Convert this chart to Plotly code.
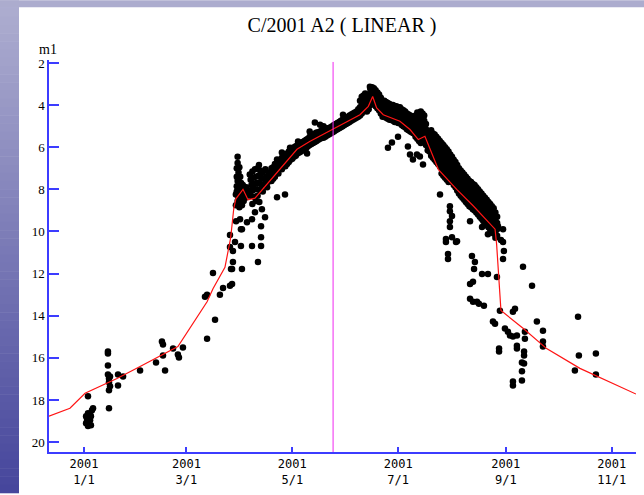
import pandas as pd
import plotly.graph_objects as go

# ---------------- data ----------------
# observations: (days since 2001-01-01, total magnitude m1)
obs_winter = [
    (1.2, 19.10), (1.7, 18.87), (2.3, 18.63), (2.3, 19.24), (2.9, 19.15), (3.5, 18.96),
    (3.5, 18.68), (4.0, 18.77), (4.0, 19.20), (4.6, 18.49), (5.2, 18.39), (1.2, 18.77),
    (1.7, 19.05), (2.9, 18.87), (2.3, 17.82),
    (13.8, 15.70), (13.8, 15.79), (13.8, 16.36), (14.4, 16.98), (14.4, 17.16), (15.0, 17.35),
    (14.4, 17.54), (13.8, 16.79), (15.0, 16.88), (14.4, 18.39), (19.6, 16.79), (19.6, 17.31),
    (22.5, 16.88), (32.3, 16.60),
    (41.5, 16.22), (44.9, 15.23), (45.5, 15.37), (45.5, 15.89), (46.7, 16.60), (51.3, 15.56),
    (54.1, 15.84), (54.7, 15.98), (57.0, 15.51), (70.9, 15.09),
]

obs_rise = [
    (75.5, 14.19), (69.7, 13.10), (70.9, 13.01), (74.3, 11.97), (78.3, 13.01), (80.1, 12.68),
    (84.1, 12.58), (85.3, 12.49), (84.7, 11.78), (85.8, 11.45), (91.0, 11.78), (90.4, 10.69),
    (84.1, 10.17), (84.1, 10.74), (85.8, 10.93), (87.0, 10.50), (90.4, 9.89), (87.6, 9.51),
    (93.9, 9.56), (85.3, 11.78), (100.2, 11.45), (96.8, 10.69), (102.0, 10.69), (102.0, 10.27),
    (102.0, 9.75), (91.0, 9.89), (89.9, 9.42), (96.8, 9.42), (104.3, 9.32), (102.5, 8.94),
    (98.5, 9.09),
]

obs_outburst = [
    (88.5, 6.45), (88.5, 6.75), (88.0, 7.0), (89.0, 7.2), (88.0, 7.4), (90.0, 7.4), (88.5, 7.6),
    (90.5, 7.7), (88.0, 7.85), (89.5, 7.9), (91.0, 8.0), (88.0, 8.1), (90.0, 8.15), (89.0, 8.35),
    (91.5, 8.3), (88.5, 8.55), (90.0, 8.6), (87.5, 8.25), (92.0, 8.55), (91.0, 8.75), (89.5, 8.85),
    (87.5, 8.75), (89.0, 7.55), (91.5, 7.8), (92.5, 8.1), (93.0, 8.4), (89.5, 6.95), (90.5, 8.45),
    (95.5, 7.3), (97.0, 7.15), (98.5, 7.05), (100.0, 7.0), (101.5, 7.1), (103.0, 7.2), (96.0, 7.55),
    (97.5, 7.45), (99.0, 7.4), (100.5, 7.35), (102.0, 7.45), (103.5, 7.5), (105.0, 7.4), (96.5, 7.8),
    (98.0, 7.75), (99.5, 7.7), (101.0, 7.7), (102.5, 7.8), (104.0, 7.75), (95.0, 8.05), (97.0, 8.05),
    (98.5, 8.0), (100.0, 8.0), (101.5, 8.05), (103.0, 8.1), (105.5, 7.9), (96.0, 8.3), (98.0, 8.35),
    (100.0, 8.3), (94.0, 8.25), (93.5, 7.9), (99.0, 8.55), (101.0, 8.6), (97.0, 8.7), (106.0, 7.65),
    (107.5, 7.5), (104.5, 7.05), (100.8, 6.85), (106.5, 7.2), (108.0, 7.3), (110.0, 7.1),
    (111.2, 8.38), (115.8, 8.24),
]

obs_pre_perihelion = [
    (108, 7.0), (108, 7.6), (110, 6.8), (110, 7.4), (112, 6.7), (112, 6.95), (112, 7.25),
    (114, 6.5), (114, 6.8), (114, 7.05), (116, 6.35), (116, 6.6), (116, 6.9),
    (118, 6.2), (118, 6.45), (118, 6.7), (120, 6.05), (120, 6.3), (120, 6.55),
    (122, 5.95), (122, 6.2), (122, 6.4), (124, 5.85), (124, 6.05), (124, 6.25),
    (126, 5.75), (126, 5.95), (126, 6.15), (128, 5.65), (128, 5.85), (128, 6.05),
    (130, 5.5), (130, 5.7), (130, 5.9), (132, 5.4), (132, 5.6), (132, 5.8),
    (134, 5.3), (134, 5.5), (134, 5.7), (136, 5.25), (136, 5.45), (136, 5.6),
    (138, 5.2), (138, 5.35), (138, 5.55), (140, 5.1), (140, 5.3), (140, 5.45),
    (142, 5.05), (142, 5.25), (142, 5.35),
    (109, 6.95), (109, 7.25), (109, 7.5), (111, 6.85), (111, 7.1), (113, 6.6), (113, 6.9),
    (115, 6.45), (115, 6.75), (117, 6.3), (117, 6.55), (117, 6.8), (119, 6.15), (119, 6.4),
    (119, 6.6), (121, 6.0), (121, 6.25), (121, 6.45), (123, 5.9), (123, 6.1), (123, 6.3),
    (125, 5.8), (125, 6.0), (125, 6.2), (127, 5.7), (127, 5.9), (127, 6.1), (129, 5.6),
    (129, 5.8), (129, 5.95), (131, 5.45), (131, 5.65), (131, 5.85), (133, 5.35), (133, 5.55),
    (133, 5.75), (135, 5.3), (135, 5.5), (135, 5.65), (137, 5.2), (137, 5.4), (137, 5.55),
    (139, 5.15), (139, 5.3), (139, 5.5), (141, 5.1), (141, 5.25), (141, 5.4),
    (143, 5.0), (143, 5.15), (143, 5.3),
    (111.2, 6.58), (114.0, 6.25), (118.7, 6.02), (123.3, 5.73), (130.0, 5.26), (133.0, 4.83),
    (136.0, 4.93), (138.0, 5.0), (128.5, 6.3),
]

obs_peak = [
    (144, 4.95), (144, 5.1), (144, 5.25), (146, 4.85), (146, 5.0), (146, 5.15),
    (148, 4.75), (148, 4.9), (148, 5.05), (150, 4.65), (150, 4.8), (150, 4.95),
    (152, 4.55), (152, 4.7), (152, 4.85), (154, 4.45), (154, 4.6), (154, 4.75),
    (156, 4.35), (156, 4.5), (156, 4.65), (158, 4.2), (158, 4.4), (158, 4.55),
    (160, 4.0), (160, 4.2), (160, 4.4), (160, 3.6), (162, 3.8), (162, 4.0), (162, 4.25), (162, 3.45),
    (164, 3.5), (164, 3.75), (164, 4.0), (164, 4.2), (164.7, 3.13),
    (166, 3.15), (166, 3.4), (166, 3.65), (166, 3.9), (168, 3.3), (168, 3.55), (168, 3.8), (168, 4.05),
    (170, 3.5), (170, 3.75), (170, 4.0), (170, 4.25),
    (145, 4.9), (145, 5.05), (145, 5.2), (147, 4.8), (147, 4.95), (147, 5.1), (149, 4.7),
    (149, 4.85), (149, 5.0), (151, 4.6), (151, 4.75), (151, 4.9), (153, 4.5), (153, 4.65),
    (153, 4.8), (155, 4.4), (155, 4.55), (155, 4.7), (157, 4.3), (157, 4.45), (157, 4.6),
    (159, 3.8), (159, 4.1), (159, 4.3), (159, 4.5), (161, 3.55), (161, 3.9), (161, 4.1), (161, 4.3),
    (163, 3.6), (163, 3.85), (163, 4.1), (163, 4.3), (165, 3.25), (165, 3.5), (165, 3.75), (165, 4.0),
    (167, 3.2), (167, 3.45), (167, 3.7), (167, 3.95), (169, 3.4), (169, 3.65), (169, 3.9), (169, 4.15),
    (149.2, 4.46), (157.3, 4.55), (145.7, 5.07),
    (172, 3.8), (172, 4.05), (172, 4.3), (172, 4.55), (174, 3.85), (174, 4.1), (174, 4.35), (174, 4.6),
    (176, 3.95), (176, 4.2), (176, 4.45), (176, 4.7), (178, 4.0), (178, 4.25), (178, 4.5), (178, 4.75),
    (180, 4.05), (180, 4.3), (180, 4.55), (180, 4.8), (182, 4.1), (182, 4.35), (182, 4.6), (182, 4.85),
    (184, 4.25), (184, 4.5), (184, 4.75), (184, 5.0), (186, 4.4), (186, 4.65), (186, 4.9), (186, 5.15),
    (188, 4.5), (188, 4.75), (188, 5.0), (188, 5.25), (190, 4.6), (190, 4.85), (190, 5.1), (190, 5.35),
    (171, 3.65), (171, 3.9), (171, 4.15), (171, 4.4), (173, 3.8), (173, 4.05), (173, 4.3), (173, 4.5),
    (175, 3.9), (175, 4.15), (175, 4.4), (175, 4.65), (177, 4.0), (177, 4.25), (177, 4.5), (177, 4.7),
    (179, 4.05), (179, 4.3), (179, 4.55), (179, 4.8), (181, 4.1), (181, 4.35), (181, 4.6), (181, 4.85),
    (183, 4.2), (183, 4.45), (183, 4.7), (183, 4.95), (185, 4.3), (185, 4.55), (185, 4.8), (185, 5.05),
    (187, 4.45), (187, 4.7), (187, 4.95), (187, 5.2), (189, 4.55), (189, 4.8), (189, 5.05), (189, 5.3),
    (192, 4.35), (192, 4.6), (192, 4.85), (192, 5.1), (192, 5.35), (192, 5.6),
    (194, 4.3), (194, 4.55), (194, 4.8), (194, 5.05), (194, 5.3), (194, 5.55), (194, 5.8),
    (196, 4.5), (196, 4.75), (196, 5.0), (196, 5.25), (196, 5.5), (196, 5.75),
    (198, 5.4), (198, 5.65), (198, 5.9), (198, 6.15),
    (191, 4.5), (191, 4.75), (191, 5.0), (191, 5.25), (191, 5.5),
    (193, 4.45), (193, 4.7), (193, 4.95), (193, 5.2), (193, 5.45), (193, 5.7),
    (195, 4.4), (195, 4.65), (195, 4.9), (195, 5.15), (195, 5.4), (195, 5.65),
    (197, 4.9), (197, 5.15), (197, 5.4), (197, 5.65), (197, 5.9),
    (199, 5.3), (199, 5.6), (199, 5.9), (199, 6.2),
]

obs_fade = [
    (200, 5.2), (200, 5.5), (200, 5.8), (200, 6.1), (200, 6.4),
    (202, 5.4), (202, 5.7), (202, 6.0), (202, 6.3), (202, 6.6),
    (204, 5.6), (204, 5.9), (204, 6.2), (204, 6.5), (204, 6.8),
    (206, 5.8), (206, 6.1), (206, 6.4), (206, 6.7), (206, 7.0), (206, 7.25),
    (208, 6.0), (208, 6.3), (208, 6.6), (208, 6.9), (208, 7.2), (208, 7.45),
    (210, 6.2), (210, 6.5), (210, 6.8), (210, 7.1), (210, 7.4), (210, 7.65),
    (212, 6.45), (212, 6.75), (212, 7.05), (212, 7.35), (212, 7.65),
    (214, 6.7), (214, 7.0), (214, 7.3), (214, 7.6), (214, 7.9),
    (216, 7.0), (216, 7.3), (216, 7.6), (216, 7.9), (216, 8.2),
    (218, 7.2), (218, 7.5), (218, 7.8), (218, 8.1), (218, 8.4),
    (220, 7.4), (220, 7.7), (220, 8.0), (220, 8.3), (220, 8.6),
    (222, 7.6), (222, 7.9), (222, 8.2), (222, 8.5), (222, 8.8),
    (224, 7.75), (224, 8.05), (224, 8.35), (224, 8.65), (224, 8.95),
    (226, 7.9), (226, 8.2), (226, 8.5), (226, 8.8), (226, 9.1),
    (228, 8.1), (228, 8.4), (228, 8.7), (228, 9.0), (228, 9.3),
    (230, 8.3), (230, 8.6), (230, 8.9), (230, 9.2), (230, 9.5),
    (232, 8.5), (232, 8.8), (232, 9.1), (232, 9.4), (232, 9.7),
    (234, 8.7), (234, 9.0), (234, 9.3), (234, 9.6), (234, 9.9),
    (236, 8.9), (236, 9.2), (236, 9.5), (236, 9.8), (236, 10.1),
    (238, 9.3), (238, 9.6), (238, 9.9), (238, 10.2),
    (201, 5.35), (201, 5.65), (201, 5.95), (201, 6.25), (201, 6.5),
    (203, 5.5), (203, 5.8), (203, 6.1), (203, 6.4), (203, 6.7),
    (205, 5.7), (205, 6.0), (205, 6.3), (205, 6.6), (205, 6.9),
    (207, 5.9), (207, 6.2), (207, 6.5), (207, 6.8), (207, 7.1), (207, 7.35),
    (209, 6.1), (209, 6.4), (209, 6.7), (209, 7.0), (209, 7.3), (209, 7.55),
    (211, 6.35), (211, 6.65), (211, 6.95), (211, 7.25), (211, 7.55),
    (213, 6.6), (213, 6.9), (213, 7.2), (213, 7.5), (213, 7.8),
    (215, 6.85), (215, 7.15), (215, 7.45), (215, 7.75), (215, 8.05),
    (217, 7.1), (217, 7.4), (217, 7.7), (217, 8.0), (217, 8.3),
    (219, 7.3), (219, 7.6), (219, 7.9), (219, 8.2), (219, 8.5),
    (221, 7.5), (221, 7.8), (221, 8.1), (221, 8.4), (221, 8.7),
    (223, 7.65), (223, 7.95), (223, 8.25), (223, 8.55), (223, 8.85),
    (225, 7.8), (225, 8.1), (225, 8.4), (225, 8.7), (225, 9.0),
    (227, 8.0), (227, 8.3), (227, 8.6), (227, 8.9), (227, 9.2),
    (229, 8.2), (229, 8.5), (229, 8.8), (229, 9.1), (229, 9.4),
    (231, 8.4), (231, 8.7), (231, 9.0), (231, 9.3), (231, 9.6),
    (233, 8.6), (233, 8.9), (233, 9.2), (233, 9.5), (233, 9.8),
    (235, 8.8), (235, 9.1), (235, 9.4), (235, 9.7), (235, 10.0),
    (237, 9.1), (237, 9.4), (237, 9.7), (237, 10.0), (237, 10.3),
]

obs_late = [
    (177.4, 5.78), (175.1, 6.02), (180.9, 5.5), (186.6, 5.97), (187.8, 6.35), (191.8, 6.35),
    (195.3, 6.82), (193.5, 6.44), (189.5, 6.58), (205.1, 8.24), (212.0, 9.27),
    (210.8, 8.8), (210.8, 9.04), (210.8, 9.51), (210.8, 9.79), (222.4, 9.51), (229.3, 9.79),
    (232.7, 10.13), (238.5, 9.75), (241.4, 9.89), (240.2, 10.41), (241.4, 10.5), (241.9, 10.93),
    (241.4, 11.31), (208.5, 10.36), (208.5, 10.5), (212.0, 10.27), (214.3, 10.5), (214.9, 10.46),
    (209.7, 11.07), (209.7, 11.31), (223.5, 11.16), (225.2, 11.45), (224.7, 11.78), (229.3, 12.02),
    (232.7, 12.02), (237.9, 12.16), (224.1, 12.39), (222.4, 12.49), (222.4, 13.20), (224.1, 13.34),
    (226.4, 13.34), (227.5, 13.43), (230.4, 13.53),
    (252.9, 11.68), (258.1, 12.58), (239.6, 13.76), (248.3, 13.67), (247.1, 13.81), (236.8, 14.38),
    (235.6, 14.28), (242.5, 14.61), (244.2, 14.76), (245.4, 14.94), (247.1, 14.99), (249.4, 14.94),
    (254.0, 14.76), (254.0, 15.09), (260.9, 14.28), (264.4, 14.71), (264.4, 15.23), (264.4, 15.46),
    (239.1, 15.56), (239.1, 15.70), (249.4, 15.42), (249.4, 15.56), (253.5, 15.70), (253.5, 15.89),
    (253.5, 16.27), (252.3, 16.22), (252.3, 16.64), (252.3, 17.07), (247.1, 17.12), (247.1, 17.31),
    (284.6, 14.05), (285.1, 15.89), (282.8, 16.60), (294.9, 15.79), (294.9, 16.79),
]

# predicted light curve (days since 2001-01-01, m1)
model_day = [-20.2, -8.1, 0.6, 19.0, 32.3, 43.8, 54.1, 70.9, 74.3, 81.2, 84.5, 86.3, 87.5,
             91.6, 94.5, 98.5, 113.0, 122.7, 130.0, 143.4, 159.0, 163.8, 166.3, 168.6, 172.4,
             182.0, 187.8, 192.6, 196.4, 204.1, 214.7, 224.3, 236.8, 237.7, 240.2, 253.1,
             266.5, 285.7, 318.0]
model_mag = [18.77, 18.39, 17.68, 16.98, 16.41, 15.89, 15.46, 13.34, 12.72, 11.70, 10.30, 8.90, 8.45,
             8.00, 8.50, 8.42, 7.05, 6.10, 5.73, 5.16, 4.46, 4.06, 3.59, 4.14, 4.46,
             4.77, 5.16, 5.64, 5.48, 7.05, 8.00, 8.79, 9.89, 10.60, 13.75, 14.61,
             15.56, 16.50, 17.72]

perihelion = "2001-05-24 12:00"
tick_dates = ["2001-01-01", "2001-03-01", "2001-05-01", "2001-07-01", "2001-09-01", "2001-11-01"]
tick_text = ["2001<br>1/1", "2001<br>3/1", "2001<br>5/1", "2001<br>7/1", "2001<br>9/1", "2001<br>11/1"]
mag_ticks = [2, 4, 6, 8, 10, 12, 14, 16, 18, 20]

# ---------------- build ----------------
epoch = pd.Timestamp("2001-01-01")
def to_dates(days):
    return [epoch + pd.to_timedelta(d, unit="D") for d in days]

obs = obs_winter + obs_rise + obs_outburst + obs_pre_perihelion + obs_peak + obs_fade + obs_late
obs_x = to_dates([p[0] for p in obs])
obs_y = [p[1] for p in obs]

W, H = 644, 495
L, R, T, B = 49, 8, 60, 41
PW, PH = W - L - R, H - T - B

def px_x(px):
    return (px - L) / PW

def px_y(py):
    return (H - B - py) / PH

fig = go.Figure()
fig.add_trace(go.Scatter(x=obs_x, y=obs_y, mode="markers",
                         marker=dict(color="black", size=6.5, line=dict(width=0)),
                         hoverinfo="skip", showlegend=False))
fig.add_trace(go.Scatter(x=to_dates(model_day), y=model_mag, mode="lines",
                         line=dict(color="rgb(255,20,20)", width=1.2),
                         hoverinfo="skip", showlegend=False))

shapes = []
# magenta perihelion line
shapes.append(dict(type="line", xref="x", yref="paper", x0=perihelion, x1=perihelion,
                   y0=0, y1=0.995, line=dict(color="rgb(240,40,240)", width=1)))
# frame gradient (left strip + top band)
n = 60
c0 = (174, 174, 208)
c1 = (70, 70, 156)
for i in range(n):
    t = i / (n - 1)
    col = "rgb(%d,%d,%d)" % tuple(round(c0[k] + (c1[k] - c0[k]) * t) for k in range(3))
    ya = H * i / n
    yb = H * (i + 1) / n + 0.5
    shapes.append(dict(type="rect", xref="paper", yref="paper",
                       x0=px_x(0), x1=px_x(19), y0=px_y(yb), y1=px_y(ya),
                       fillcolor=col, line=dict(width=0), layer="below"))
shapes.append(dict(type="rect", xref="paper", yref="paper",
                   x0=px_x(0), x1=px_x(W), y0=px_y(7), y1=px_y(0),
                   fillcolor="rgb(172,172,206)", line=dict(width=0), layer="below"))

blue = "rgb(60,60,255)"
fig.update_layout(
    width=W, height=H,
    margin=dict(l=L, r=R, t=T, b=B, pad=0),
    paper_bgcolor="white", plot_bgcolor="white",
    title=dict(text="C/2001 A2 ( LINEAR )", x=342 / W, xref="container", xanchor="center",
               y=1 - 25 / H, yref="container", yanchor="middle",
               font=dict(family="Liberation Serif", size=20, color="black")),
    shapes=shapes,
    annotations=[dict(text="m1", xref="paper", yref="paper", x=px_x(47.5), y=px_y(49),
                      xanchor="center", yanchor="middle", showarrow=False,
                      font=dict(family="Liberation Serif", size=14, color="black"))],
    xaxis=dict(type="date", range=["2000-12-11 20:10", "2001-11-15 00:00"],
               tickvals=tick_dates, ticktext=tick_text, ticks="inside", ticklen=5,
               tickwidth=1.5, tickcolor=blue, showline=True, linecolor=blue, linewidth=1.5,
               showgrid=False, zeroline=False,
               tickfont=dict(family="DejaVu Sans Mono", size=12, color="black")),
    yaxis=dict(range=[20.47, 1.86], tickvals=mag_ticks, ticks="inside", ticklen=10,
               tickwidth=1.5, tickcolor=blue, showline=True, linecolor=blue, linewidth=1.5,
               showgrid=False, zeroline=False,
               tickfont=dict(family="Liberation Serif", size=13, color="black")),
)

fig.write_html("out.html", config={"displayModeBar": False},
               post_script="document.body.style.margin='0';document.body.style.padding='0';")
